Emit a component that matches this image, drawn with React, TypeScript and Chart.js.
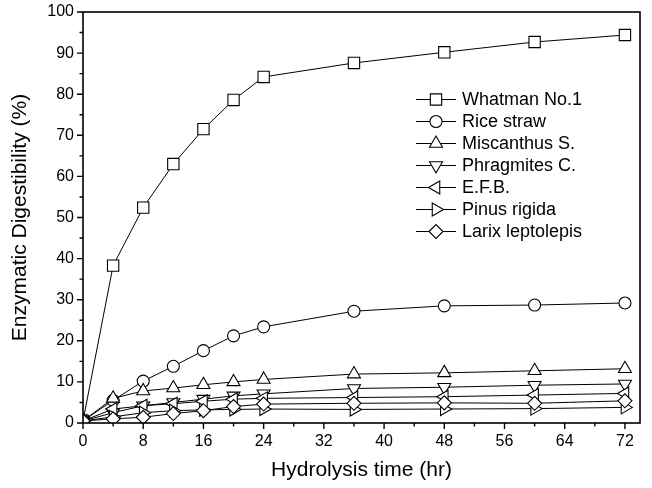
import React, { useEffect, useRef } from 'react';
import { Chart, registerables } from 'chart.js';
import { drawPoint } from 'chart.js/helpers';

Chart.register(...registerables);

const hours = [0, 4, 8, 12, 16, 20, 24, 36, 48, 60, 72];

const seriesNames = [
  'Whatman No.1',
  'Rice straw',
  'Miscanthus S.',
  'Phragmites C.',
  'E.F.B.',
  'Pinus rigida',
  'Larix leptolepis',
];

const whatman = [0.5, 38.3, 52.4, 63.0, 71.5, 78.6, 84.2, 87.6, 90.2, 92.7, 94.4];
const riceStraw = [0.5, 5.5, 10.2, 13.8, 17.6, 21.2, 23.4, 27.2, 28.5, 28.7, 29.2];
const miscanthus = [0.5, 6.0, 7.8, 8.5, 9.3, 10.0, 10.6, 11.9, 12.2, 12.7, 13.2];
const phragmites = [0.5, 2.5, 4.2, 5.0, 5.8, 6.6, 7.1, 8.4, 8.7, 9.2, 9.5];
const efb = [0.5, 3.4, 4.2, 4.7, 5.3, 5.8, 6.0, 6.2, 6.4, 6.8, 7.2];
const pinus = [0.5, 1.5, 2.5, 3.0, 3.2, 3.3, 3.4, 3.3, 3.4, 3.5, 3.8];
const larix = [0.5, 1.0, 1.4, 2.3, 3.0, 4.0, 4.6, 4.8, 4.9, 4.8, 5.4];

const seriesValues = [whatman, riceStraw, miscanthus, phragmites, efb, pinus, larix];

const xMajorTicks = [0, 8, 16, 24, 32, 40, 48, 56, 64, 72];
const xMinorTicks = [4, 12, 20, 28, 36, 44, 52, 60, 68];
const yMajorTicks = [0, 10, 20, 30, 40, 50, 60, 70, 80, 90, 100];
const yMinorTicks = [5, 15, 25, 35, 45, 55, 65, 75, 85, 95];

const FONT = "'Liberation Sans', Arial, sans-serif";

const markerStyles = [
  { pointStyle: 'rect', radius: 8, rotation: 0 },
  { pointStyle: 'circle', radius: 6, rotation: 0 },
  { pointStyle: 'triangle', radius: 7.5, rotation: 0 },
  { pointStyle: 'triangle', radius: 7.5, rotation: 180 },
  { pointStyle: 'triangle', radius: 7.5, rotation: 270 },
  { pointStyle: 'triangle', radius: 7.5, rotation: 90 },
  { pointStyle: 'rectRot', radius: 7, rotation: 0 },
];

const frameAndTicks = {
  id: 'frameAndTicks',
  afterDraw(chart: any) {
    const { ctx, chartArea, scales } = chart;
    const { left, right, top, bottom } = chartArea;
    const x = scales.x;
    const y = scales.y;
    ctx.save();
    ctx.strokeStyle = '#000';
    ctx.lineWidth = 1.6;
    ctx.strokeRect(left, top, right - left, bottom - top);
    ctx.lineWidth = 1.4;
    ctx.beginPath();
    xMajorTicks.forEach((v) => {
      const px = x.getPixelForValue(v);
      ctx.moveTo(px, bottom);
      ctx.lineTo(px, bottom + 6);
    });
    xMinorTicks.forEach((v) => {
      const px = x.getPixelForValue(v);
      ctx.moveTo(px, bottom);
      ctx.lineTo(px, bottom + 3.5);
    });
    yMajorTicks.forEach((v) => {
      const py = y.getPixelForValue(v);
      ctx.moveTo(left, py);
      ctx.lineTo(left - 6, py);
    });
    yMinorTicks.forEach((v) => {
      const py = y.getPixelForValue(v);
      ctx.moveTo(left, py);
      ctx.lineTo(left - 3.5, py);
    });
    ctx.stroke();
    ctx.restore();
  },
};

const customLegend = {
  id: 'customLegend',
  afterDraw(chart: any) {
    const { ctx } = chart;
    ctx.save();
    ctx.font = `18px ${FONT}`;
    ctx.textBaseline = 'middle';
    ctx.textAlign = 'left';
    seriesNames.forEach((name, i) => {
      const yy = 99.5 + i * 22;
      ctx.strokeStyle = '#000';
      ctx.lineWidth = 1;
      ctx.beginPath();
      ctx.moveTo(416, yy);
      ctx.lineTo(456, yy);
      ctx.stroke();
      ctx.fillStyle = '#fff';
      ctx.strokeStyle = '#000';
      ctx.lineWidth = 1.1;
      const m = markerStyles[i];
      drawPoint(ctx, { pointStyle: m.pointStyle, radius: m.radius, rotation: m.rotation, borderWidth: 1.1 } as any, 436, yy);
      ctx.fillStyle = '#000';
      ctx.fillText(name, 462, yy + 1);
    });
    ctx.restore();
  },
};

export default function App() {
  const canvasRef = useRef<HTMLCanvasElement | null>(null);

  useEffect(() => {
    document.body.style.margin = '0';
    const canvas = canvasRef.current;
    if (!canvas) return;
    const datasets = seriesNames.map((name, i) => ({
      label: name,
      data: hours.map((h, j) => ({ x: h, y: seriesValues[i][j] })),
      borderColor: '#000',
      borderWidth: 1,
      backgroundColor: '#fff',
      pointBackgroundColor: '#fff',
      pointBorderColor: '#000',
      pointBorderWidth: 1.1,
      pointStyle: markerStyles[i].pointStyle,
      pointRadius: markerStyles[i].radius,
      pointRotation: markerStyles[i].rotation,
      pointHoverRadius: markerStyles[i].radius,
      tension: 0,
      fill: false,
      order: seriesNames.length - i,
    }));
    const chart = new Chart(canvas, {
      type: 'line',
      data: { datasets },
      plugins: [frameAndTicks, customLegend],
      options: {
        responsive: false,
        animation: false,
        devicePixelRatio: 1,
        layout: { padding: { left: 0, right: 12, top: 12, bottom: 0 } },
        plugins: {
          legend: { display: false },
          tooltip: { enabled: false },
        },
        scales: {
          x: {
            type: 'linear',
            min: 0,
            max: 74,
            afterBuildTicks: (scale: any) => {
              scale.ticks = xMajorTicks.map((v) => ({ value: v }));
            },
            afterFit: (scale: any) => {
              scale.height = 65;
              scale.paddingLeft = 0;
              scale.paddingRight = 0;
            },
            ticks: {
              color: '#000',
              font: { family: FONT, size: 16 },
              padding: 9,
              maxRotation: 0,
              autoSkip: false,
            },
            grid: { display: false, drawTicks: false },
            border: { display: false },
            title: {
              display: true,
              text: 'Hydrolysis time (hr)',
              color: '#000',
              font: { family: FONT, size: 21 },
              padding: { top: 0, bottom: 5 },
            },
          },
          y: {
            type: 'linear',
            min: 0,
            max: 100,
            afterBuildTicks: (scale: any) => {
              scale.ticks = yMajorTicks.map((v) => ({ value: v }));
            },
            afterFit: (scale: any) => {
              scale.width = 83;
              scale.paddingTop = 0;
              scale.paddingBottom = 0;
            },
            ticks: {
              color: '#000',
              font: { family: FONT, size: 16 },
              padding: 9,
              autoSkip: false,
            },
            grid: { display: false, drawTicks: false },
            border: { display: false },
            title: {
              display: true,
              text: 'Enzymatic Digestibility (%)',
              color: '#000',
              font: { family: FONT, size: 21 },
              padding: { top: 8, bottom: 0 },
            },
          },
        },
      },
    });
    return () => chart.destroy();
  }, []);

  return <canvas ref={canvasRef} width={652} height={488} />;
}
